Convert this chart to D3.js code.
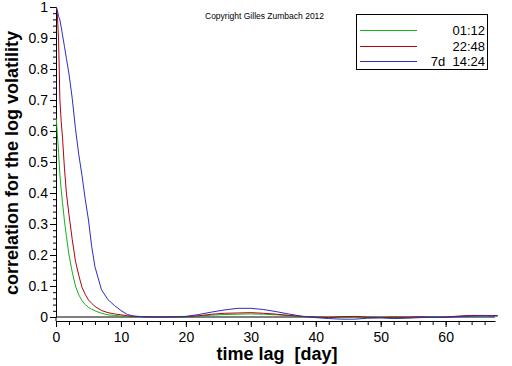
<!DOCTYPE html>
<html>
<head>
<meta charset="utf-8">
<script src="https://cdn.jsdelivr.net/npm/d3@7"></script>
<style>
	body { margin: 0; background: #fff; }
	svg { display: block; font-family: "Liberation Sans", Arial, sans-serif; }
	.axis text { font-size: 14px; fill: #000; }
	.axis path, .axis line { stroke: #000; }
</style>
</head>
<body>
<svg id="chart" width="512" height="366"></svg>
<script>

// time lag in days
const lags = [0.05, 0.2, 0.4, 0.6, 0.8, 1.0, 1.3, 1.6, 2.0, 2.5, 3.0, 3.5, 4.0, 4.5, 5.0, 5.5, 6.0, 7, 8, 9, 10, 11, 12, 14, 16, 18, 20, 22, 24, 26, 28, 30, 32, 34, 36, 38, 40, 42, 44, 46, 48, 50, 52, 54, 56, 58, 60, 62, 64, 66, 68]

const green = [0.64, 0.59, 0.53, 0.46, 0.41, 0.37, 0.31, 0.26, 0.20, 0.145, 0.10, 0.072, 0.053, 0.040, 0.031, 0.025, 0.020, 0.012, 0.007, 0.005, 0.003, 0.002, 0.001, 0.0, 0.0, -0.001, 0.0, 0.003, 0.006, 0.008, 0.009, 0.010, 0.009, 0.007, 0.004, 0.001, 0.0, -0.001, -0.002, -0.001, 0.0, -0.001, 0.001, -0.002, 0.0, 0.001, -0.001, 0.002, 0.004, 0.003, 0.005]

const red = [1.0, 0.98, 0.89, 0.70, 0.63, 0.58, 0.48, 0.40, 0.33, 0.25, 0.18, 0.135, 0.096, 0.073, 0.055, 0.044, 0.034, 0.021, 0.014, 0.010, 0.007, 0.004, 0.002, 0.001, 0.0, 0.0, 0.001, 0.004, 0.009, 0.012, 0.013, 0.014, 0.012, 0.009, 0.005, 0.002, 0.0, -0.002, 0.001, 0.002, -0.001, -0.002, -0.001, -0.001, 0.001, -0.001, 0.0, 0.003, 0.005, 0.005, 0.004]

const blue = [1.0, 0.99, 0.97, 0.958, 0.935, 0.91, 0.873, 0.834, 0.784, 0.705, 0.607, 0.525, 0.457, 0.38, 0.313, 0.227, 0.162, 0.088, 0.056, 0.037, 0.021, 0.008, 0.003, 0.0, 0.0, 0.001, 0.002, 0.008, 0.016, 0.023, 0.028, 0.028, 0.024, 0.017, 0.009, 0.002, -0.002, -0.005, -0.007, -0.007, -0.004, -0.003, -0.005, -0.004, -0.002, -0.001, -0.001, 0.001, 0.003, 0.004, 0.003]

const seriesNames = ['01:12', '22:48', '7d  14:24']
const seriesColors = ['#18b018', '#b40010', '#2c2cc0']

const xTicks = [0, 10, 20, 30, 40, 50, 60]
const yTicks = [0, 0.1, 0.2, 0.3, 0.4, 0.5, 0.6, 0.7, 0.8, 0.9, 1]

let svg = d3.select('#chart')

let xScale = d3.scaleLinear()
.domain([0, 67.6])
.range([56, 495])

let yScale = d3.scaleLinear()
.domain([0, 1])
.range([317, 7])

let axisY = 321

// minor ticks first, majors on top
svg.append('g')
.attr('class', 'axis')
.attr('transform', 'translate(0,' + axisY + ')')
.call(d3.axisBottom(xScale).tickValues(d3.range(0, 68, 2)).tickSize(4).tickFormat(''))
.select('.domain').remove()

svg.append('g')
.attr('class', 'axis')
.attr('transform', 'translate(56,0)')
.call(d3.axisLeft(yScale).tickValues(d3.range(0, 1.001, 0.02)).tickSize(3).tickFormat(''))
.select('.domain').remove()

let xaxis = svg.append('g')
.attr('class', 'axis')
.attr('transform', 'translate(0,' + axisY + ')')
.call(
	d3.axisBottom(xScale)
	.tickValues(xTicks)
	.tickSize(6)
	.tickSizeOuter(0)
	.tickPadding(5)
	)

let yaxis = svg.append('g')
.attr('class', 'axis')
.attr('transform', 'translate(56,0)')
.call(
	d3.axisLeft(yScale)
	.tickValues(yTicks)
	.tickSize(6)
	.tickSizeOuter(0)
	.tickPadding(2)
	.tickFormat(d => d3.format('')(+d.toFixed(1)))
	)

svg.selectAll('.axis text').style('font-size', '14px')

// y axis continues down to the x axis
svg.append('line')
.attr('x1', 56).attr('x2', 56)
.attr('y1', yScale(0)).attr('y2', axisY)
.attr('stroke', '#000')

// zero line
svg.append('line')
.attr('x1', xScale(0)).attr('x2', xScale.range()[1])
.attr('y1', yScale(0)).attr('y2', yScale(0))
.attr('stroke', '#000')

let line = d3.line()
.x((d, i) => xScale(lags[i]))
.y(d => yScale(d))

let g = svg.append('g')

;[green, red, blue].map((s, i) => {
	g.append('path')
	.attr('d', line(s))
	.attr('fill', 'none')
	.attr('stroke', seriesColors[i])
	.attr('stroke-width', 1)
})

// legend
let legend = svg.append('g')

legend.append('rect')
.attr('x', 356.5).attr('y', 14.5)
.attr('width', 131).attr('height', 55)
.attr('fill', '#fff')
.attr('stroke', '#000')

seriesNames.map((n, i) => {
	let ly = Math.round(30 + i * 15.5) + 0.5
	legend.append('line')
	.attr('x1', 360).attr('x2', 417)
	.attr('y1', ly).attr('y2', ly)
	.attr('stroke', seriesColors[i])
	legend.append('text')
	.attr('x', 485).attr('y', ly + 4.5)
	.attr('text-anchor', 'end')
	.style('font-size', '13px')
	.style('white-space', 'pre')
	.text(n)
})

svg.append('text')
.attr('x', 205).attr('y', 19)
.style('font-size', '8.5px')
.text('Copyright Gilles Zumbach 2012')

svg.append('text')
.attr('x', 277).attr('y', 360)
.attr('text-anchor', 'middle')
.style('font-size', '18px')
.style('font-weight', 'bold')
.style('white-space', 'pre')
.text('time lag  [day]')

svg.append('text')
.attr('transform', 'translate(18,163) rotate(-90)')
.attr('text-anchor', 'middle')
.style('font-size', '18px')
.style('font-weight', 'bold')
.text('correlation for the log volatility')

</script>
</body>
</html>
